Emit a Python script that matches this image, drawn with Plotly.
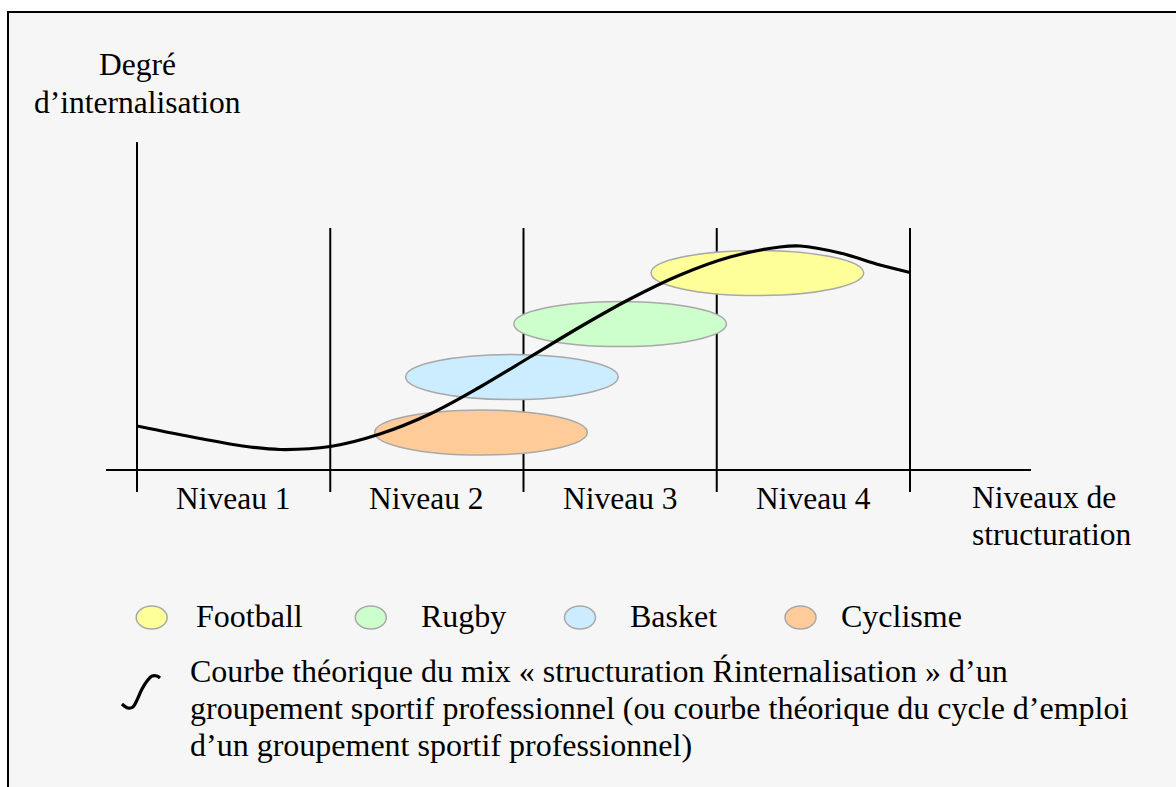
import plotly.graph_objects as go

# ---------------- data (chart units: x = structuring level, y = degree of internalisation) ----
level_labels = ["Niveau 1", "Niveau 2", "Niveau 3", "Niveau 4"]
level_bounds = [0, 1, 2, 3, 4]

curve_x = [0.0, 0.326, 0.585, 0.740, 1.0, 1.257, 1.516, 1.775, 2.034, 2.292, 2.551, 2.810,
           3.069, 3.327, 3.431, 3.638, 3.845, 4.0]
curve_y = [0.44, 0.315, 0.23, 0.205, 0.235, 0.36, 0.56, 0.83, 1.13, 1.43, 1.71, 1.95,
           2.13, 2.23, 2.24, 2.17, 2.05, 1.975]

sports = ["Football", "Rugby", "Basket", "Cyclisme"]
sport_colors = ["#FFFF99", "#CCFFCC", "#CCECFF", "#FFCC99"]
sport_cx = [3.21, 2.50, 1.94, 1.78]
sport_cy = [1.97, 1.46, 0.93, 0.375]
sport_w = [1.10, 1.10, 1.10, 1.10]
sport_h = [0.45, 0.45, 0.45, 0.45]

# legend glyph for the theoretical curve (small integral-like stroke)
glyph_x = [-0.078, -0.047, -0.021, 0.0, 0.026, 0.052, 0.078, 0.103, 0.119]
glyph_y = [-2.34, -2.38, -2.37, -2.30, -2.19, -2.11, -2.06, -2.06, -2.08]

y_title = ["Degré", "d’internalisation"]
x_title = ["Niveaux de", "structuration"]
curve_legend = [
    "Courbe théorique du mix « structuration Ŕinternalisation » d’un",
    "groupement sportif professionnel (ou courbe théorique du cycle d’emploi",
    "d’un groupement sportif professionnel)",
]

# ---------------- layout helpers ----------------
W, H = 1176, 787
PX0, PXU = 137.0, 193.25   # pixel of x=0, pixels per level
PY0, PYU = 470.0, 100.0    # pixel of y=0, pixels per unit


def fx(px):
    return (px - PX0) / PXU


def fy(py):
    return (PY0 - py) / PYU


FONT = "Liberation Serif, Times New Roman, serif"
FS = 31.5
FS_LEG = 32
BG = "#F6F6F6"
EDGE = "#A8A8A8"

fig = go.Figure()
shapes = []
annotations = []

# frame
shapes.append(dict(type="rect", xref="paper", yref="paper",
                   x0=8 / W, x1=1.05, y0=-0.05, y1=1 - 12 / H,
                   line=dict(color="black", width=2), fillcolor=BG, layer="below"))

# axes
shapes.append(dict(type="line", xref="x", yref="y", x0=0, x1=0, y0=fy(142), y1=fy(492),
                   line=dict(color="black", width=2), layer="below"))
shapes.append(dict(type="line", xref="x", yref="y", x0=fx(106), x1=fx(1031), y0=0, y1=0,
                   line=dict(color="black", width=2), layer="below"))
for b in level_bounds[1:]:
    shapes.append(dict(type="line", xref="x", yref="y", x0=b, x1=b, y0=fy(228), y1=fy(492),
                       line=dict(color="black", width=2), layer="below"))

# sport ellipses (drawn from the lowest upward)
for i in reversed(range(len(sports))):
    shapes.append(dict(type="circle", xref="x", yref="y",
                       x0=sport_cx[i] - sport_w[i] / 2, x1=sport_cx[i] + sport_w[i] / 2,
                       y0=sport_cy[i] - sport_h[i] / 2, y1=sport_cy[i] + sport_h[i] / 2,
                       fillcolor=sport_colors[i], line=dict(color=EDGE, width=1.5), layer="below"))

# theoretical curve
fig.add_trace(go.Scatter(x=curve_x, y=curve_y, mode="lines",
                         line=dict(color="black", width=3.2, shape="spline", smoothing=1.0),
                         hoverinfo="skip", showlegend=False))

# legend glyph
fig.add_trace(go.Scatter(x=glyph_x, y=glyph_y, mode="lines",
                         line=dict(color="black", width=3.2, shape="spline", smoothing=1.0),
                         hoverinfo="skip", showlegend=False))


def txt(text, px, py, xanchor="center", size=FS):
    annotations.append(dict(text=text, x=fx(px), y=fy(py), xref="x", yref="y",
                            xanchor=xanchor, yanchor="middle", showarrow=False,
                            font=dict(family=FONT, size=size, color="black")))


# y-axis title
txt(y_title[0], 137, 64.5)
txt(y_title[1], 137, 102.5)

# level labels
for i, lab in enumerate(level_labels):
    cx_px = PX0 + (level_bounds[i] + 0.5) * PXU
    txt(lab, cx_px, 498.5)

# x-axis title
txt(x_title[0], 970, 497.5, "left")
txt(x_title[1], 970, 534.5, "left")

# legend of sports
leg_marker_px = [151.7, 370.8, 580.0, 800.5]
leg_text_px = [194, 419, 628, 839]
for i, s in enumerate(sports):
    mx = leg_marker_px[i]
    shapes.append(dict(type="circle", xref="x", yref="y",
                       x0=fx(mx - 15.5), x1=fx(mx + 15.5), y0=fy(629), y1=fy(606),
                       fillcolor=sport_colors[i], line=dict(color=EDGE, width=1.5), layer="below"))
    txt(s, leg_text_px[i], 616, "left", FS_LEG)

# legend of curve
for j, line in enumerate(curve_legend):
    txt(line, 188, 671 + j * 37, "left", FS_LEG)

fig.update_layout(
    width=W, height=H,
    margin=dict(l=0, r=0, t=0, b=0),
    paper_bgcolor="white", plot_bgcolor="white",
    xaxis=dict(range=[fx(0), fx(W)], visible=False, fixedrange=True),
    yaxis=dict(range=[fy(H), fy(0)], visible=False, fixedrange=True),
    shapes=shapes, annotations=annotations,
    showlegend=False,
)

fig.write_html("out.html", config={"displayModeBar": False},
               post_script="document.body.style.margin='0px';")
